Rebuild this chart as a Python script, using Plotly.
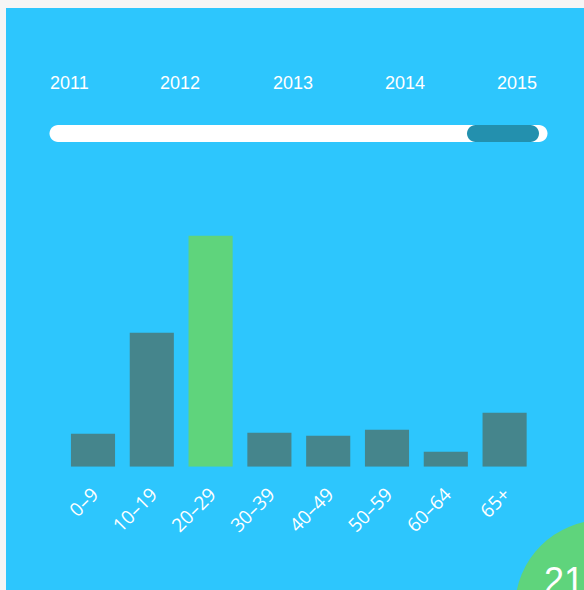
import plotly.graph_objects as go

# ---- data ----
age_groups = ["0–9", "10–19", "20–29", "30–39", "40–49", "50–59", "60–64", "65+"]
values = [33, 134, 231, 34, 31, 37, 15, 54]
highlight = "20–29"
years = ["2011", "2012", "2013", "2014", "2015"]
selected_year = "2015"
badge_text = "21"

# ---- style ----
BLUE = "#2dc6fd"
BAR = "#45858c"
GREEN = "#5fd47c"
HANDLE = "#2390ae"
OUTER = "#f5f5f5"

W, H = 578, 582
OX, OY = 6, 8


def px(x):
    return (x - OX) / W


def py(y):
    return 1 - (y - OY) / H


def rounded_rect(x0, y0, x1, y1):
    r = (y1 - y0) / 2
    k = 0.5523 * r

    def P(x, y):
        return f"{px(x):.5f},{py(y):.5f}"
    path = f"M {P(x0 + r, y0)} L {P(x1 - r, y0)} "
    path += f"C {P(x1 - r + k, y0)} {P(x1, y0 + r - k)} {P(x1, y0 + r)} "
    path += f"C {P(x1, y0 + r + k)} {P(x1 - r + k, y1)} {P(x1 - r, y1)} "
    path += f"L {P(x0 + r, y1)} "
    path += f"C {P(x0 + r - k, y1)} {P(x0, y0 + r + k)} {P(x0, y0 + r)} "
    path += f"C {P(x0, y0 + r - k)} {P(x0 + r - k, y0)} {P(x0 + r, y0)} Z"
    return path


colors = [GREEN if a == highlight else BAR for a in age_groups]

fig = go.Figure(
    go.Bar(x=age_groups, y=values, marker=dict(color=colors, line=dict(width=0)),
           hoverinfo="skip")
)

shapes = [
    dict(type="path", xref="paper", yref="paper", path=rounded_rect(49.5, 125, 547.5, 142),
         fillcolor="white", line=dict(width=0), layer="below"),
    dict(type="path", xref="paper", yref="paper", path=rounded_rect(467, 125, 539, 142),
         fillcolor=HANDLE, line=dict(width=0), layer="below"),
    dict(type="circle", xref="paper", yref="paper",
         x0=px(603 - 88), x1=px(603 + 88), y0=py(608 + 88), y1=py(608 - 88),
         fillcolor=GREEN, line=dict(width=0), layer="below"),
]

annotations = []
year_x = [69, 180, 293, 405, 517]
for yr, xc in zip(years, year_x):
    annotations.append(dict(text=yr, x=px(xc), y=py(83.5), xref="paper", yref="paper",
                            showarrow=False, xanchor="center", yanchor="middle",
                            font=dict(family="Liberation Sans, Arial", size=18, color="white")))
annotations.append(dict(text=badge_text, x=px(542), y=py(580), xref="paper", yref="paper",
                        showarrow=False, xanchor="left", yanchor="middle",
                        font=dict(family="Liberation Sans, Arial", size=36, color="white")))

fig.update_layout(
    width=W, height=H,
    margin=dict(l=0, r=0, t=0, b=0),
    paper_bgcolor=BLUE, plot_bgcolor="rgba(0,0,0,0)",
    showlegend=False,
    bargap=0.25,
    shapes=shapes,
    annotations=annotations,
    xaxis=dict(domain=[px(63.6), px(534)], showgrid=False, zeroline=False, showline=False,
               tickangle=-45, tickfont=dict(family="Open Sans", size=19, color="white"),
               ticks="", ticklabelstandoff=12, fixedrange=True),
    yaxis=dict(domain=[py(466.7), py(216.7)], range=[0, 250], visible=False, fixedrange=True),
)

post = ("document.body.style.margin='8px 0 0 6px';"
        "document.body.style.background='%s';"
        "document.body.style.overflow='hidden';"
        "document.documentElement.style.overflow='hidden';" % OUTER)
fig.write_html("out.html", post_script=post, config={"displayModeBar": False})
